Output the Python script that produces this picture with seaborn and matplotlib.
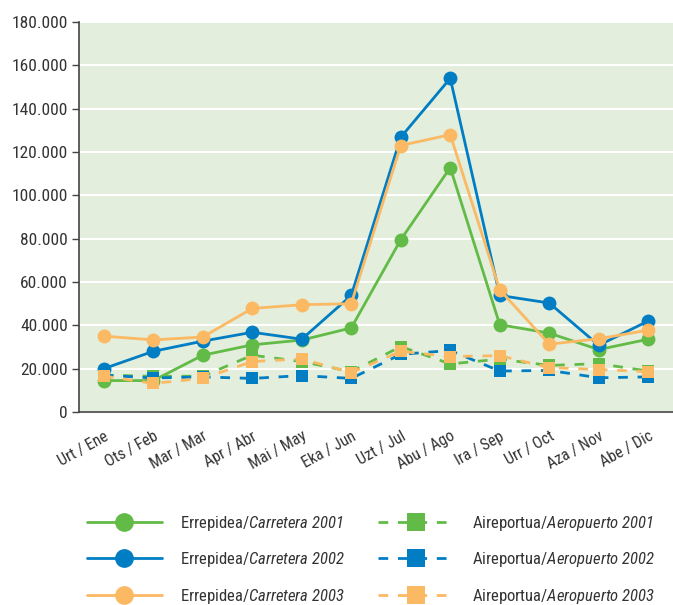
import matplotlib
matplotlib.use("Agg")
import matplotlib.pyplot as plt
from matplotlib import font_manager
from matplotlib.lines import Line2D
import seaborn as sns
import pandas as pd
import numpy as np

months = ["Urt / Ene", "Ots / Feb", "Mar / Mar", "Apr / Abr", "Mai / May", "Eka / Jun",
          "Uzt / Jul", "Abu / Ago", "Ira / Sep", "Urr / Oct", "Aza / Nov", "Abe / Dic"]
years = ["2001", "2002", "2003"]

carretera_2001 = [14500, 14500, 26200, 31000, 33200, 38800, 79500, 112800, 40300, 36400, 28800, 33600]
carretera_2002 = [20000, 28000, 32700, 36800, 33600, 53800, 126800, 154000, 53800, 50300, 30800, 42000]
carretera_2003 = [35000, 33300, 34600, 47800, 49500, 50000, 123000, 128000, 56400, 31300, 33800, 37800]

aeropuerto_2001 = [17000, 16500, 16500, 26200, 23300, 18600, 30200, 22200, 24400, 21500, 22300, 18900]
aeropuerto_2002 = [17000, 15700, 16200, 15500, 16800, 15500, 26600, 28400, 18900, 19200, 15800, 16200]
aeropuerto_2003 = [16600, 13200, 15500, 23300, 24500, 18200, 28000, 25600, 26000, 20500, 19600, 18600]

yticks = [0, 20000, 40000, 60000, 80000, 100000, 120000, 140000, 160000, 180000]
ytick_labels = ["0", "20.000", "40.000", "60.000", "80.000", "100.000",
                "120.000", "140.000", "160.000", "180.000"]

colors = {"2001": "#62bb46", "2002": "#007dc3", "2003": "#fcb964"}

# font choice
avail = {f.name for f in font_manager.fontManager.ttflist}
fam = "DejaVu Sans"
for cand in ["Liberation Sans Narrow", "DejaVu Sans Condensed", "Roboto Condensed", "Liberation Sans"]:
    if cand in avail:
        fam = cand
        break

sns.set_theme(style="white")
plt.rcParams["font.family"] = [fam, "DejaVu Sans"]
plt.rcParams["mathtext.fontset"] = "custom"
plt.rcParams["mathtext.rm"] = fam + ":italic"
plt.rcParams["mathtext.it"] = fam + ":italic"
plt.rcParams["mathtext.default"] = "it"

rows = []
for i, m in enumerate(months):
    for y, vals in zip(years, [carretera_2001, carretera_2002, carretera_2003]):
        rows.append({"x": i, "year": y, "kind": "Carretera", "value": vals[i]})
    for y, vals in zip(years, [aeropuerto_2001, aeropuerto_2002, aeropuerto_2003]):
        rows.append({"x": i, "year": y, "kind": "Aeropuerto", "value": vals[i]})
df = pd.DataFrame(rows)

fig = plt.figure(figsize=(6.73, 6.05), dpi=100)
ax = fig.add_axes([79 / 673, 1 - 412 / 605, 1 - 79 / 673, 390 / 605])
ax.set_facecolor("#e3eedc")

sns.lineplot(data=df[df.kind == "Carretera"], x="x", y="value", hue="year",
             hue_order=years, palette=colors, marker="o", markersize=10,
             markeredgewidth=0, linewidth=2.0, legend=False, ax=ax, zorder=3)
sns.lineplot(data=df[df.kind == "Aeropuerto"], x="x", y="value", hue="year",
             hue_order=years, palette=colors, marker="s", markersize=9,
             markeredgewidth=0, linewidth=2.0, legend=False, ax=ax, zorder=4)
for ln in ax.lines[3:6]:
    ln.set_dashes((3.5, 3.5))

ax.set_xlim(-0.5, 11.5)
ax.set_ylim(0, 180000)
ax.set_yticks(yticks)
ax.set_yticklabels(ytick_labels, fontsize=12.5, color="#333333")
ax.set_xticks(np.arange(len(months)))
ax.set_xticklabels(months, rotation=29, ha="right", rotation_mode="anchor",
                   fontsize=11.5, color="#333333")
ax.set_xticks(np.arange(-0.5, 12.0, 1.0), minor=True)
ax.tick_params(axis="x", which="major", length=0, pad=12)
ax.tick_params(axis="x", which="minor", length=6, width=1.0, color="#444444", direction="out")
ax.tick_params(axis="y", which="major", length=5, width=1.0, color="#444444",
               direction="out", left=True, pad=3)
ax.set_xlabel("")
ax.set_ylabel("")
ax.yaxis.grid(True, color="white", linewidth=1.5)
ax.xaxis.grid(False)
ax.set_axisbelow(True)
for s in ["top", "right"]:
    ax.spines[s].set_visible(False)
for s in ["left", "bottom"]:
    ax.spines[s].set_color("#444444")
    ax.spines[s].set_linewidth(1.2)

handles = []
labels = []
for y in years:
    handles.append(Line2D([], [], color=colors[y], linewidth=2.0, marker="o",
                          markersize=13.5, markeredgewidth=0))
    labels.append(r"Errepidea/$Carretera\ " + y + r"$")
for y in years:
    handles.append(Line2D([], [], color=colors[y], linewidth=2.0, marker="s",
                          markersize=12.5, markeredgewidth=0, dashes=(3.5, 3.5)))
    labels.append(r"Aireportua/$Aeropuerto\ " + y + r"$")

leg = fig.legend(handles, labels, ncol=2, loc="upper left",
                 bbox_to_anchor=(80 / 673, 1 - 507 / 605), frameon=False,
                 fontsize=12, handlelength=4.5, handletextpad=1.1,
                 columnspacing=2.0, labelspacing=1.05, borderaxespad=0)
for t in leg.get_texts():
    t.set_color("#333333")

fig.savefig("out.png", dpi=100)
